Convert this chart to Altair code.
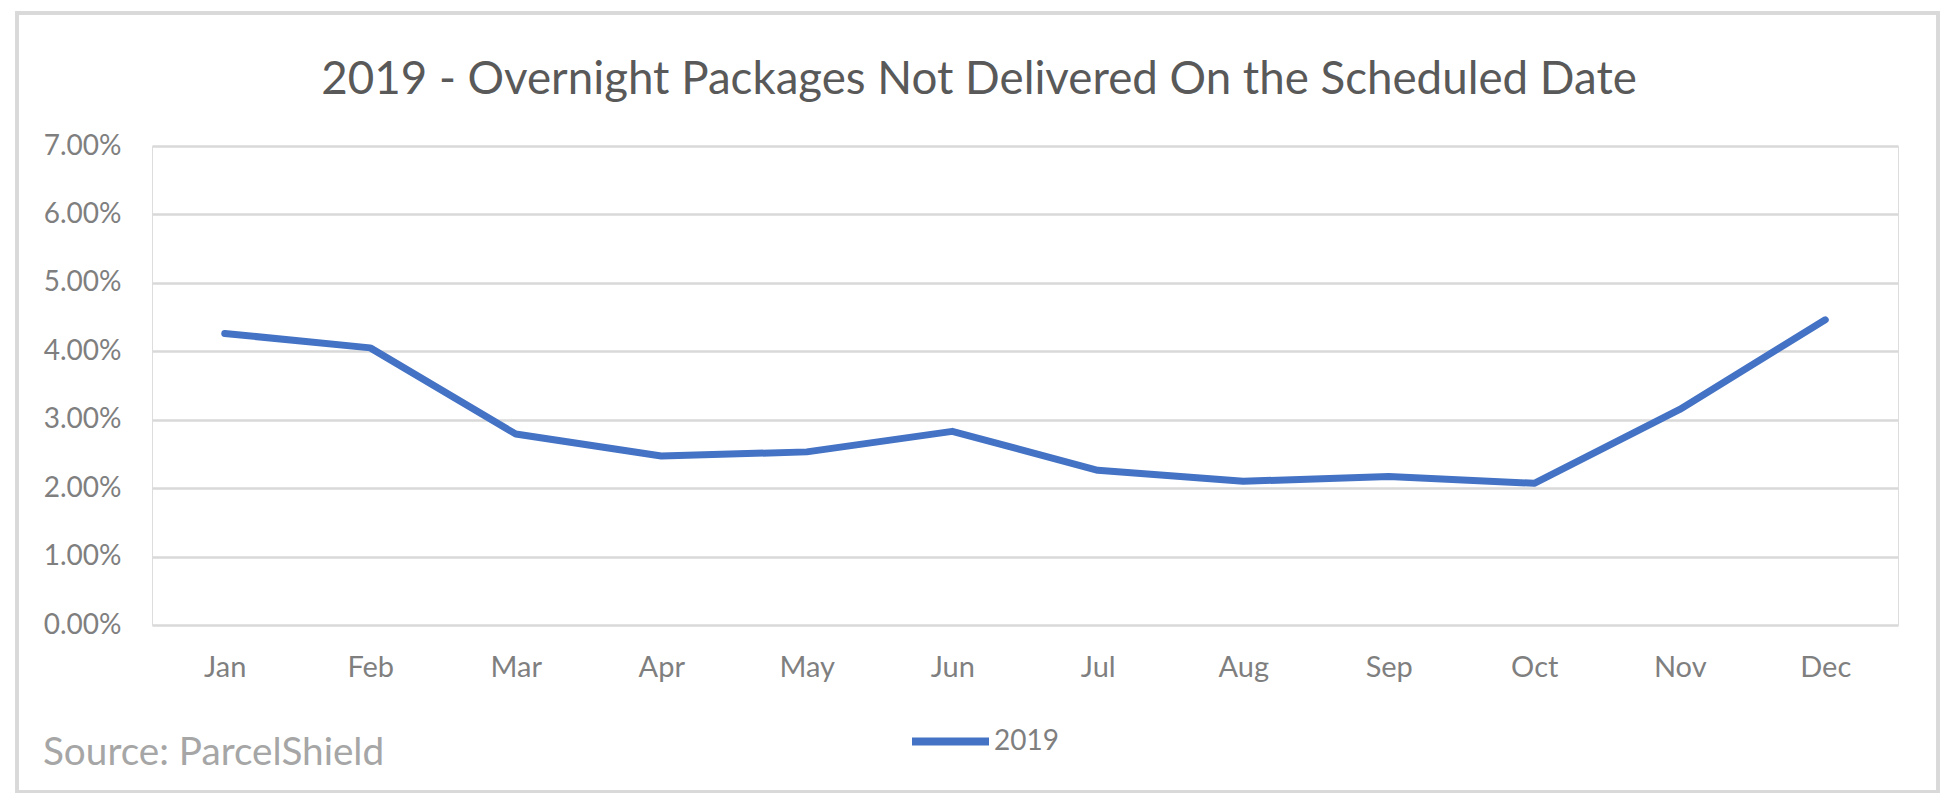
import altair as alt
import pandas as pd

months = ["Jan", "Feb", "Mar", "Apr", "May", "Jun", "Jul", "Aug", "Sep", "Oct", "Nov", "Dec"]
values_2019 = [0.0426, 0.0405, 0.0279, 0.0247, 0.0253, 0.0283, 0.0226, 0.0210, 0.0217, 0.0207, 0.0315, 0.0446]
series_name = "2019"
title_text = "2019 - Overnight Packages Not Delivered On the Scheduled Date"
source_text = "Source: ParcelShield"
y_ticks = [0.0, 0.01, 0.02, 0.03, 0.04, 0.05, 0.06, 0.07]

df = pd.DataFrame({"month": months, "value": values_2019, "series": [series_name] * len(months)})

FONT = "Lato"
W, H = 1746, 479

line = alt.Chart(df).mark_line(strokeWidth=7, strokeCap="round", strokeJoin="round").encode(
    x=alt.X("month:N", sort=months, scale=alt.Scale(type="point", padding=0.5),
            axis=alt.Axis(title=None, labelAngle=0, ticks=False, domain=False, grid=False,
                          labelFont=FONT, labelFontSize=29, labelColor="#7f7f7f",
                          labelPadding=28)),
    y=alt.Y("value:Q", scale=alt.Scale(domain=[0, 0.07], nice=False),
            axis=alt.Axis(title=None, values=y_ticks, format=".2%", ticks=False, domain=False,
                          grid=True, gridColor="#d9d9d9", gridWidth=2.5,
                          labelFont=FONT, labelFontSize=28, labelColor="#7f7f7f",
                          labelPadding=31)),
    color=alt.Color("series:N", scale=alt.Scale(range=["#4472C4"]),
                    legend=alt.Legend(title=None, orient="none", legendX=756, legendY=553,
                                      symbolType="stroke", symbolSize=5929, symbolStrokeWidth=8,
                                      labelFont=FONT, labelFontSize=28, labelColor="#7f7f7f",
                                      labelOffset=1, padding=0)),
)

border = alt.Chart(df).mark_rect(fill="transparent", stroke="#d9d9d9", strokeWidth=3).encode(
    x=alt.value(-135), x2=alt.value(1786), y=alt.value(-133), y2=alt.value(646)
)

title = alt.Chart(pd.DataFrame({"t": [title_text]})).mark_text(
    font=FONT, fontSize=45.7, color="#595959", align="center", baseline="alphabetic"
).encode(text="t:N", x=alt.value(827), y=alt.value(-52))

source = alt.Chart(pd.DataFrame({"t": [source_text]})).mark_text(
    font=FONT, fontSize=38.7, color="#a6a6a6", align="left", baseline="alphabetic"
).encode(text="t:N", x=alt.value(-109), y=alt.value(619))

chart = alt.layer(border, line, title, source).properties(
    width=W, height=H,
    autosize=alt.AutoSizeParams(type="none"),
    padding={"left": 144, "top": 138, "right": 43, "bottom": 168},
).configure_view(stroke=None).configure(background="white")

chart.save("out.html", embed_options={"renderer": "svg", "actions": False})
